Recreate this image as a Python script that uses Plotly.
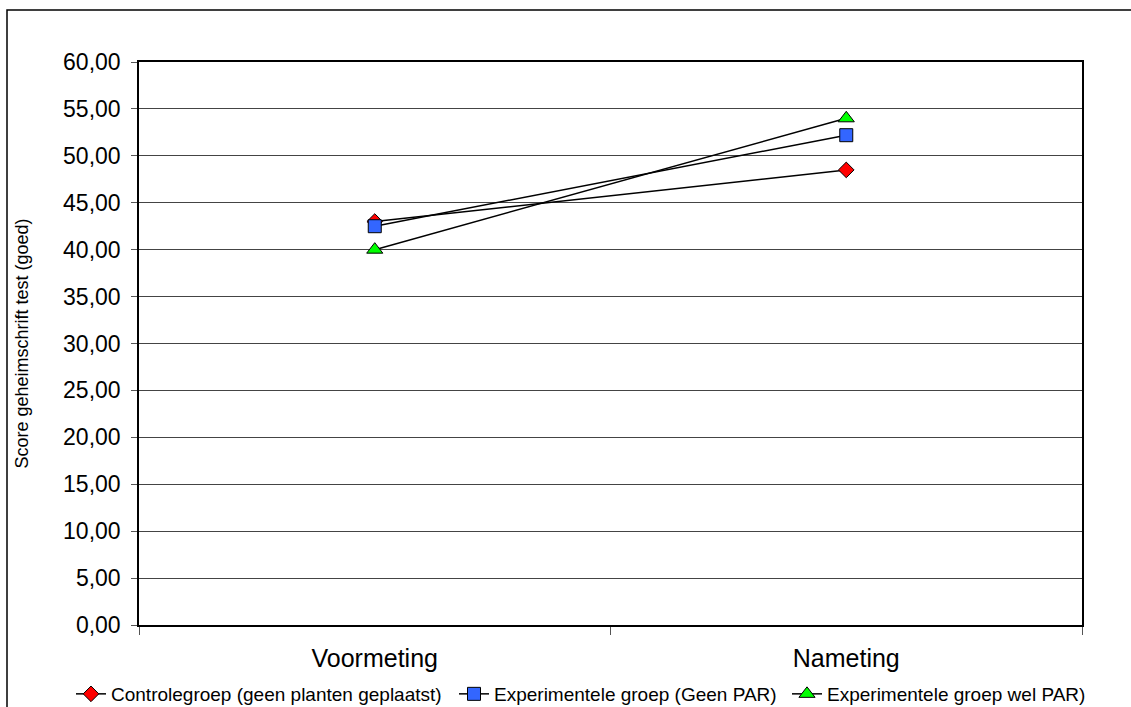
import plotly.graph_objects as go

# Meetmomenten en gemiddelde scores per groep
momenten = ["Voormeting", "Nameting"]
controle = [43.0, 48.5]
exp_geen_par = [42.5, 52.2]
exp_wel_par = [40.0, 54.0]

reeksen = [
    ("Controlegroep (geen planten geplaatst)", controle, "diamond", "#FF0000", 12, "legend", 71),
    ("Experimentele groep (Geen PAR)", exp_geen_par, "square", "#3366FF", 13, "legend2", 454),
    ("Experimentele groep wel PAR)", exp_wel_par, "triangle-up", "#00FF00", 14, "legend3", 787),
]

W, H = 1131, 707
L, R, T, B = 139, 49, 62, 82
pw, ph = W - L - R, H - T - B

fig = go.Figure()
legendes = {}
for naam, waarden, symbool, kleur, grootte, leg, xpos in reeksen:
    fig.add_trace(go.Scatter(
        x=momenten, y=waarden, name=naam, mode="lines+markers", legend=leg,
        line=dict(color="black", width=1.5),
        marker=dict(symbol=symbool, color=kleur, size=grootte,
                    line=dict(color="black", width=1)),
    ))
    legendes[leg] = dict(
        orientation="h", x=(xpos - L) / pw, xanchor="left",
        y=-(694 - (T + ph)) / ph, yanchor="middle",
        font=dict(size=19), bgcolor="rgba(0,0,0,0)", borderwidth=0,
    )

fig.update_layout(
    width=W, height=H,
    margin=dict(l=L, r=R, t=T, b=B, autoexpand=False),
    paper_bgcolor="white", plot_bgcolor="white",
    font=dict(family="Liberation Sans, Arial, sans-serif", color="black"),
    separators=",.",
    showlegend=True,
    xaxis=dict(
        type="category", range=[-0.5, 1.5], tickson="boundaries",
        ticks="outside", ticklen=8, tickcolor="#555", tickwidth=1,
        showline=True, linecolor="black", linewidth=2, mirror=True,
        showgrid=False, tickfont=dict(size=25), zeroline=False,
        ticklabelstandoff=10, automargin=False,
    ),
    yaxis=dict(
        range=[0, 60], dtick=5, tickformat=".2f",
        ticks="outside", ticklen=6, tickcolor="#555", tickwidth=1,
        showline=True, linecolor="black", linewidth=1.5, mirror=True,
        showgrid=True, gridcolor="#444", gridwidth=1,
        tickfont=dict(size=23), zeroline=False, ticklabelstandoff=6,
        automargin=False,
        title=dict(text="Score geheimschrift test (goed)", font=dict(size=18), standoff=30),
    ),
    **legendes,
)

# Kader rond de hele grafiek
fig.add_shape(
    type="rect", xref="paper", yref="paper",
    x0=(7 - L) / pw, x1=(W + 5 - L) / pw,
    y0=-(H + 5 - (T + ph)) / ph, y1=1 + (T - 10) / ph,
    line=dict(color="black", width=1.5), fillcolor="rgba(0,0,0,0)", layer="below",
)

fig.write_html("out.html")
